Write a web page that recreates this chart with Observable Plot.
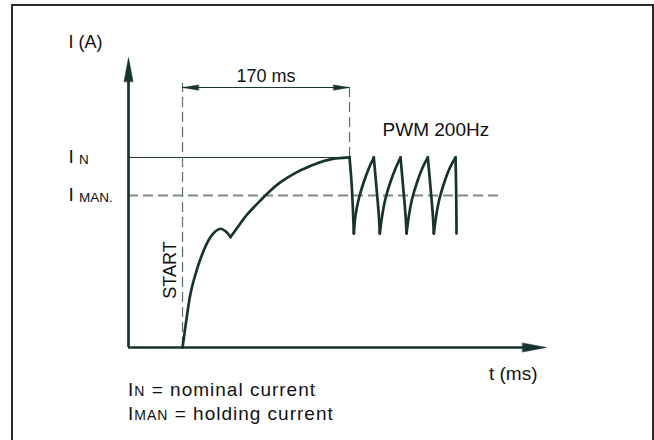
<!DOCTYPE html>
<html><head><meta charset="utf-8">
<script src="https://cdn.jsdelivr.net/npm/d3@7"></script>
<script src="https://cdn.jsdelivr.net/npm/@observablehq/plot@0.6"></script>
<style>
html,body{margin:0;padding:0;background:#fff;overflow:hidden;}
#wrap{position:relative;width:654px;height:440px;font-family:"Liberation Sans",Arial,sans-serif;color:#111;}
#chart{position:absolute;left:0;top:0;}
#legend{position:absolute;left:128px;top:378px;font-size:19px;line-height:24px;letter-spacing:1px;white-space:nowrap;}
#legend .sub{font-size:14px;line-height:0;}
#frame{position:absolute;left:11px;top:4px;width:643px;height:480px;box-sizing:border-box;border:2px solid #2b2b2b;pointer-events:none;}
</style></head><body>
<div id="wrap"><div id="chart"></div><div id="legend"></div><div id="frame"></div></div>
<script>
// ---- data (time in ms, current relative to I_N) ----
const axisT = [-55, 370.5];          // extent of time axis
const axisI = [0, 1.526];            // extent of current axis
const levelNames = ["N", "MAN."];
const levelValues = [1.0, 0.8];
const eventT = [0, 170];             // START, end of pull-in
const dimensionLabel = "170 ms";
const startLabel = "START";
const pwmLabel = "PWM 200Hz";
const yLabel = "I (A)";
const xLabel = "t (ms)";
const legendSubs = ["N", "MAN"];
const legendTexts = [" = nominal current", " = holding current"];

const curveT = [
  0, 4.8, 8.1, 13.2, 18.3, 23.4, 28.5, 33.6, 38.7, 43.8, 48.9,
  48.9, 55.7, 65.9, 79.4, 89.6, 99.8, 113.3, 123.5, 137.1, 150.7, 170,
  170, 172, 173.4, 174.4,
  174.4, 176.1, 179.5, 184.6, 189.6, 194.7,
  194.7, 197.5, 199.8, 200.8,
  200.8, 203.3, 206.6, 211.7, 216.8, 221.9,
  221.9, 224.7, 227.0, 228.0,
  228.0, 230.5, 233.8, 238.9, 244.0, 249.7,
  249.7, 252.5, 254.8, 255.8,
  255.8, 258.3, 261.6, 266.7, 271.8, 277.9,
  277.9, 278.5, 278.8, 278.9
];
const curveI = [
  0, 0.177, 0.283, 0.386, 0.467, 0.532, 0.581, 0.612, 0.625, 0.612, 0.581,
  0.581, 0.63, 0.70, 0.774, 0.826, 0.87, 0.914, 0.94, 0.97, 0.99, 1.0,
  1.0, 0.872, 0.732, 0.6,
  0.6, 0.696, 0.784, 0.872, 0.942, 1.0,
  1.0, 0.837, 0.696, 0.6,
  0.6, 0.696, 0.784, 0.872, 0.942, 1.0,
  1.0, 0.837, 0.696, 0.6,
  0.6, 0.696, 0.784, 0.872, 0.942, 1.0,
  1.0, 0.837, 0.696, 0.6,
  0.6, 0.696, 0.784, 0.872, 0.942, 1.0,
  1.0, 0.837, 0.696, 0.6
];
const curveSeg = [
  0,0,0,0,0,0,0,0,0,0,0,
  1,1,1,1,1,1,1,1,1,1,1,
  2,2,2,2,
  3,3,3,3,3,3,
  4,4,4,4,
  5,5,5,5,5,5,
  6,6,6,6,
  7,7,7,7,7,7,
  8,8,8,8,
  9,9,9,9,9,9,
  10,10,10,10
];

// annotation placement (data units)
const dimI = 1.368;     // level of the 170 ms dimension line
const extTopI = 1.39;   // top of the dashed extension lines
const startI = 0.408;   // centre of START label
const pwmT = 203.6, pwmI = 1.112;

// ---- styling ----
const dark = "#173330";
const font = "Liberation Sans, Arial, sans-serif";
const spike = {draw(ctx, l, r) { ctx.moveTo(-r, 0); ctx.lineTo(0, -l); ctx.lineTo(r, 0); ctx.closePath(); }};

const curve = curveT.map((t, k) => ({t, i: curveI[k], s: curveSeg[k]}));

const plot = Plot.plot({
  width: 654, height: 386,
  marginLeft: 128, marginRight: 108, marginTop: 57, marginBottom: 39,
  x: {domain: axisT, axis: null},
  y: {domain: axisI, axis: null},
  style: {fontFamily: font, color: "#111", background: "transparent"},
  marks: [
    // reference levels
    Plot.ruleY([levelValues[0]], {x1: axisT[0], x2: eventT[1], stroke: dark, strokeWidth: 1}),
    Plot.ruleY([levelValues[1]], {x1: axisT[0], x2: 327, stroke: "#7f8b89", strokeWidth: 2, strokeDasharray: "10,5"}),
    // extension lines
    Plot.ruleX(eventT, {x: d => d, y1: (d, k) => k === 0 ? 0 : levelValues[0], y2: extTopI, stroke: "#5f6b69", strokeWidth: 1.2, strokeDasharray: "10,5"}),
    // dimension line
    Plot.ruleY([dimI], {x1: eventT[0], x2: eventT[1], stroke: dark, strokeWidth: 1}),
    Plot.vector(eventT, {x: d => d, y: dimI, rotate: (d, k) => k === 0 ? -90 : 90, length: 16, r: 2.6, anchor: "end", shape: spike, fill: dark, stroke: dark, strokeWidth: 0.5}),
    // axes
    Plot.ruleX([axisT[0]], {y1: axisI[0], y2: axisI[1] - 0.07, stroke: dark, strokeWidth: 2.7}),
    Plot.ruleY([axisI[0]], {x1: axisT[0], x2: axisT[1] - 10, stroke: dark, strokeWidth: 2.7}),
    Plot.vector([axisI[1]], {x: axisT[0], y: d => d, length: 24, r: 4.5, anchor: "end", shape: spike, fill: dark, stroke: dark, strokeWidth: 0.5}),
    Plot.vector([axisT[1]], {x: d => d, y: axisI[0], rotate: 90, length: 24, r: 4.5, anchor: "end", shape: spike, fill: dark, stroke: dark, strokeWidth: 0.5}),
    // current curve
    Plot.line(curve, {x: "t", y: "i", z: "s", curve: "catmull-rom", stroke: dark, strokeWidth: 2.7, strokeLinejoin: "round", strokeLinecap: "round"}),
    // labels
    Plot.text([yLabel], {x: axisT[0], y: axisI[1], dx: -60, dy: -10, textAnchor: "start", lineAnchor: "bottom", fontSize: 18, fill: "#111"}),
    Plot.text(levelValues, {x: axisT[0], y: d => d, text: () => "I", dx: -60, dy: 6, textAnchor: "start", lineAnchor: "bottom", fontSize: 19, fill: "#111"}),
    Plot.text(levelValues, {x: axisT[0], y: d => d, text: (d, k) => levelNames[k], dx: -49.5, dy: 6.5, textAnchor: "start", lineAnchor: "bottom", fontSize: 13.5, fill: "#111"}),
    Plot.text([dimensionLabel], {x: (eventT[0] + eventT[1]) / 2, y: dimI, dy: -6, lineAnchor: "bottom", fontSize: 18, fill: "#111"}),
    Plot.text([startLabel], {x: eventT[0], y: startI, dx: -7, rotate: -90, textAnchor: "middle", lineAnchor: "bottom", fontSize: 18, fill: "#111"}),
    Plot.text([pwmLabel], {x: pwmT, y: pwmI, textAnchor: "start", lineAnchor: "bottom", fontSize: 19, fill: "#111"}),
    Plot.text([xLabel], {x: axisT[1], y: axisI[0], dx: -9, dy: 32, textAnchor: "end", lineAnchor: "bottom", fontSize: 19, fill: "#111"})
  ]
});
document.getElementById("chart").appendChild(plot);

// legend below the chart
const legend = d3.select("#legend");
legendSubs.forEach((s, k) => {
  const row = legend.append("div");
  row.append("span").text("I");
  row.append("span").attr("class", "sub").text(s);
  row.append("span").text(legendTexts[k]);
});
</script>
</body></html>
